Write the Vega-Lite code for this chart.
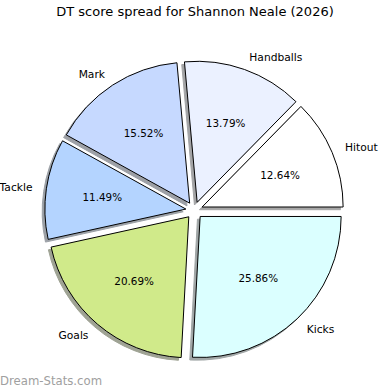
{
  "$schema": "https://vega.github.io/schema/vega-lite/v6.json",
  "width": 390,
  "height": 390,
  "padding": 0,
  "autosize": "none",
  "background": "white",
  "title": {"text": "DT score spread for Shannon Neale (2026)", "font": "DejaVu Sans", "fontSize": 13, "fontWeight": "normal", "color": "black", "anchor": "middle", "offset": -29, "baseline": "alphabetic"},
  "config": {"view": {"stroke": null}},
  "datasets": {
    "pie": [
      {"stat": "Hitout", "score": 22, "pct": "12.64%", "order": 1},
      {"stat": "Handballs", "score": 24, "pct": "13.79%", "order": 2},
      {"stat": "Mark", "score": 27, "pct": "15.52%", "order": 3},
      {"stat": "Tackle", "score": 20, "pct": "11.49%", "order": 4},
      {"stat": "Goals", "score": 36, "pct": "20.69%", "order": 5},
      {"stat": "Kicks", "score": 45, "pct": "25.86%", "order": 6}
    ],
    "mark": [{"t": "Dream-Stats.com"}]
  },
  "layer": [
    {
      "data": {"name": "pie"},
      "mark": {"type": "arc", "radius": 141, "strokeWidth": 1,
        "x": {"expr": "191.6 + 8.5*sin(scale('theta', (datum.score_start + datum.score_end)/2))"},
        "y": {"expr": "213 - 8.5*cos(scale('theta', (datum.score_start + datum.score_end)/2))"}},
      "encoding": {
        "theta": {"field": "score", "type": "quantitative", "stack": true, "scale": {"range": [1.5707963, -4.712389]}},
        "order": {"field": "order", "type": "quantitative"},
        "color": {"field": "stat", "type": "nominal", "legend": null,
          "scale": {"domain": ["Hitout", "Handballs", "Mark", "Tackle", "Goals", "Kicks"],
                    "range": ["#a6a6a6", "#a3a4a6", "#9da0a6", "#9ba0a6", "#9fa394", "#a0a6a6"]}},
        "stroke": {"field": "stat", "type": "nominal", "legend": null,
          "scale": {"domain": ["Hitout", "Handballs", "Mark", "Tackle", "Goals", "Kicks"],
                    "range": ["#a6a6a6", "#a3a4a6", "#9da0a6", "#9ba0a6", "#9fa394", "#a0a6a6"]}}
      }
    },
    {
      "data": {"name": "pie"},
      "mark": {"type": "arc", "radius": 141, "stroke": "black", "strokeWidth": 1,
        "x": {"expr": "194.3 + 8.5*sin(scale('theta', (datum.score_start + datum.score_end)/2))"},
        "y": {"expr": "210.3 - 8.5*cos(scale('theta', (datum.score_start + datum.score_end)/2))"}},
      "encoding": {
        "theta": {"field": "score", "type": "quantitative", "stack": true},
        "order": {"field": "order", "type": "quantitative"},
        "fill": {"field": "stat", "type": "nominal", "legend": null,
          "scale": {"domain": ["Hitout", "Handballs", "Mark", "Tackle", "Goals", "Kicks"],
                    "range": ["#ffffff", "#ebf1ff", "#c6d9ff", "#b4d4ff", "#d0ea8a", "#dbffff"]}}
      }
    },
    {
      "data": {"name": "pie"},
      "mark": {"type": "text", "radius": 93, "x": 194.3, "y": 211.5, "font": "DejaVu Sans", "fontSize": 10.4, "color": "black", "align": "center", "baseline": "middle"},
      "encoding": {
        "theta": {"field": "score", "type": "quantitative", "stack": true},
        "order": {"field": "order", "type": "quantitative"},
        "text": {"field": "pct", "type": "nominal"}
      }
    },
    {
      "data": {"name": "pie"},
      "mark": {"type": "text", "radius": 163.5, "x": 194.3, "y": 211.5, "font": "DejaVu Sans", "fontSize": 10.7, "color": "black", "baseline": "middle",
        "align": {"expr": "sin(scale('theta', (datum.score_start + datum.score_end)/2)) > 0 ? 'left' : 'right'"}},
      "encoding": {
        "theta": {"field": "score", "type": "quantitative", "stack": true},
        "order": {"field": "order", "type": "quantitative"},
        "text": {"field": "stat", "type": "nominal"}
      }
    },
    {
      "data": {"name": "mark"},
      "mark": {"type": "text", "x": 0, "y": 385, "align": "left", "baseline": "alphabetic", "font": "DejaVu Sans", "fontSize": 11.7, "color": "#a0a0a0"},
      "encoding": {"text": {"field": "t", "type": "nominal"}}
    }
  ],
  "resolve": {"scale": {"color": "independent", "fill": "independent", "stroke": "independent"}}
}
